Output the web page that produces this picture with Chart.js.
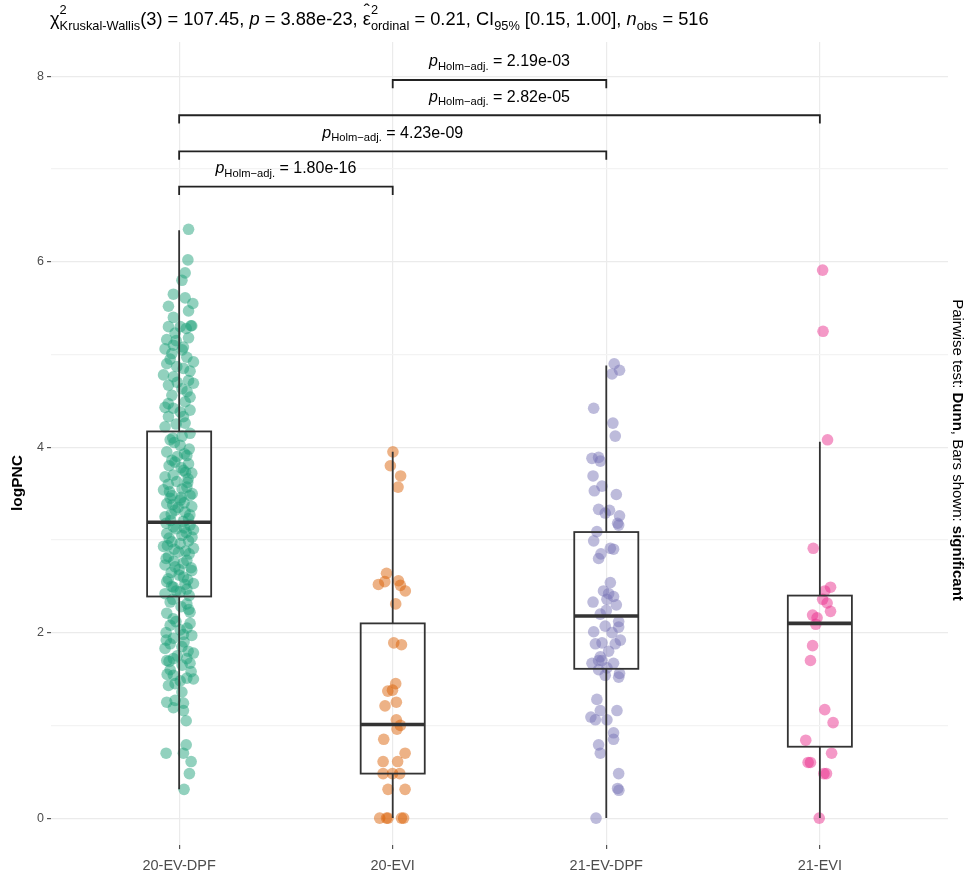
<!DOCTYPE html>
<html>
<head>
<meta charset="utf-8">
<script src="https://cdn.jsdelivr.net/npm/chart.js@4.4.1/dist/chart.umd.min.js"></script>
<style>
  html, body { margin: 0; padding: 0; background: #fff; }
  #wrap { width: 968px; height: 879px; }
</style>
</head>
<body>
<div id="wrap"><canvas id="chart" width="968" height="879"></canvas></div>
<script>
const categories = ['20-EV-DPF', '20-EVI', '21-EV-DPF', '21-EVI'];
const colors = ['27,158,119', '217,95,2', '117,112,179', '231,41,138'];

// logPNC values, with the horizontal jitter of each point (in category widths)
const dpf20Values = [
  6.35,6.02,5.88,5.80,5.65,5.61,5.52,5.55,5.47,5.40,5.31,5.31,5.30,5.30,5.23,5.18,5.16,5.10,5.08,5.06,
  5.01,4.97,4.92,4.90,4.87,4.85,4.78,4.76,4.72,4.69,4.67,4.63,4.56,4.54,4.49,4.43,4.42,4.40,4.33,4.33,
  4.25,4.38,4.47,4.60,4.70,4.82,4.95,5.05,5.15,5.28,
  4.22,4.26,4.15,4.08,4.02,3.95,3.91,3.82,3.86,3.68,3.75,3.72,3.63,3.54,3.57,3.48,3.48,3.43,3.39,3.36,
  3.32,3.30,3.25,3.23,3.14,3.11,3.07,3.05,2.99,2.98,2.93,2.91,2.87,2.82,2.78,2.73,2.71,2.67,2.55,2.60,
  2.53,2.49,2.47,2.42,2.44,
  4.12,4.05,3.98,3.90,3.80,3.78,3.70,3.66,3.60,3.55,3.50,3.45,3.40,3.35,3.28,3.20,3.18,3.16,3.12,3.08,
  3.02,2.96,2.90,2.85,2.80,2.75,2.70,2.65,2.62,2.58,2.52,2.45,2.40,
  4.10,3.93,3.84,3.73,3.62,3.52,3.46,3.38,3.27,3.21,3.13,3.03,2.94,2.88,2.77,2.68,2.57,2.50,
  2.33,2.31,2.21,2.22,2.08,2.10,2.03,1.97,1.94,1.83,1.85,1.78,1.70,1.72,1.72,1.67,1.60,1.54,1.51,1.50,
  1.43,1.45,1.36,1.25,1.27,1.24,1.19,1.16,1.05,0.70,0.79,0.70,0.61,0.48,0.31,
  2.28,2.15,2.05,2.00,1.90,1.88,1.80,1.75,1.69,1.65,1.58,1.55,1.48,2.36,2.25,2.12,1.98,1.92
];
const dpf20Jitter = [
  .044,.041,.028,.013,-.027,.028,-.050,.064,.044,-.027,.055,.059,-.050,.005,-.019,.044,-.058,-.027,.020,-.066,
  -.034,.036,.067,-.058,-.011,.020,-.073,-.027,.044,.067,-.050,.013,-.034,.051,.028,-.066,-.027,.051,-.050,.020,
  -.014,.005,-.051,.037,-.009,.051,-.042,.014,-.014,.033,
  -.066,.028,.051,-.042,.005,-.058,.036,.044,-.034,-.066,.020,.059,-.011,-.073,.036,-.034,.051,.005,-.058,.059,
  -.019,.028,-.066,.044,-.027,.067,-.058,.013,.044,-.034,-.073,.067,-.003,-.050,.036,-.066,-.019,.059,-.058,.020,
  .067,-.027,.036,-.066,.005,
  .014,-.023,.047,-.009,-.047,.009,-.028,.042,-.051,.014,.061,-.042,.023,-.005,-.037,.019,-.061,.051,-.014,.033,
  -.047,.005,-.023,.047,-.061,.019,.056,-.037,0,-.051,.028,-.014,.047,
  -.030,.025,-.020,.030,.040,-.045,.010,-.030,.050,-.040,.025,.060,-.055,.030,-.025,.000,.040,-.035,
  -.042,.036,-.058,.051,-.042,.051,.005,.059,-.027,-.066,.013,.067,-.058,-.027,.036,.051,-.042,-.027,.036,.067,
  -.050,-.019,.013,-.058,-.019,.020,-.027,.020,.033,-.061,.033,.020,.056,.048,.023,
  .009,-.028,.037,-.061,.023,-.042,.042,-.009,-.047,.014,.056,-.056,.005,-.030,.045,-.015,.020,-.060
];
const evi20Values = [
  3.95,3.80,3.69,3.57,2.64,2.52,2.55,2.56,2.51,2.45,2.31,1.89,1.87,1.45,1.37,1.38,1.25,1.21,1.06,1.00,
  0.96,0.85,0.70,0.61,0.61,0.48,0.48,0.48,0.31,0.31,0,0,0,0,0
];
const evi20Jitter = [
  .001,-.011,.037,.025,-.029,-.067,-.037,.027,.036,.059,.014,.005,.041,.014,-.023,-.001,.017,-.036,.017,.036,
  .020,-.042,.058,-.045,.023,-.045,-.001,.033,-.022,.058,-.061,-.029,-.022,.041,.051
];
const dpf21Values = [
  4.90,4.83,4.79,4.42,4.26,4.12,3.88,3.89,3.85,3.69,3.58,3.53,3.49,3.33,3.32,3.29,3.26,3.18,3.16,3.09,
  2.99,2.91,2.90,2.85,2.80,2.54,2.45,2.42,2.33,2.39,2.30,2.24,2.12,2.06,2.01,2.07,1.92,1.88,1.89,1.88,
  1.74,1.67,1.70,1.67,1.60,1.54,1.56,1.52,1.28,1.16,1.16,1.09,1.06,1.06,0.92,0.85,0.79,0.70,0.48,0.32,
  0.30,0,2.36,2.20,2.00,1.80,1.70,1.62
];
const dpf21Jitter = [
  .037,.062,.027,-.059,.031,.042,-.067,-.036,-.028,-.062,-.020,-.056,.047,-.036,.015,-.005,.062,.053,.058,-.044,
  -.059,.019,.034,-.025,-.036,.019,-.013,.011,-.062,.034,.047,0,.058,.058,-.059,-.005,.066,-.051,-.020,.042,
  -.028,-.067,-.020,.034,-.036,-.005,.062,.058,-.044,-.028,.050,-.072,-.051,.003,.034,.034,-.036,-.028,.058,.053,
  .059,-.048,.003,-.028,.027,.011,-.036,.003
];
const evi21Values = [
  5.91,5.25,4.08,2.91,2.49,2.45,2.36,2.32,2.23,2.19,2.16,2.09,1.86,1.70,1.17,1.03,0.84,0.70,0.60,0.60,
  0.48,0.48,0
];
const evi21Jitter = [
  .013,.015,.036,-.031,.050,.023,.013,.034,.050,-.034,-.013,-.019,-.034,-.044,.023,.062,-.066,.055,-.055,-.044,
  .019,.031,-.003
];

// box statistics per category
const whiskerLow = [0.31, 0, 0, 0];
const boxQ1 = [2.39, 0.48, 1.61, 0.77];
const boxMedian = [3.19, 1.01, 2.18, 2.10];
const boxQ3 = [4.17, 2.10, 3.085, 2.40];
const whiskerHigh = [6.34, 3.95, 4.88, 4.06];

// pairwise comparisons (Dunn, Holm adjusted)
const pairs = [[1, 2], [0, 3], [0, 2], [0, 1]];
const bracketY = [7.96, 7.58, 7.19, 6.81];
const pLabels = ['2.19e-03', '2.82e-05', '4.23e-09', '1.80e-16'];

const yTicks = [0, 1, 2, 3, 4, 5, 6, 7, 8];

const FONT = '"Liberation Sans", Arial, sans-serif';
const boxHalf = 0.15;

const groups = [
  [dpf20Values, dpf20Jitter],
  [evi20Values, evi20Jitter],
  [dpf21Values, dpf21Jitter],
  [evi21Values, evi21Jitter]
];

// draws text made of pieces (italic/bold, hat accent, stacked sub/superscripts); returns its width
function richText(ctx, parts, x, y, size, draw) {
  let cx = x;
  parts.forEach(p => {
    ctx.font = (p.italic ? 'italic ' : '') + (p.bold ? 'bold ' : '') + size + 'px ' + FONT;
    const tw = ctx.measureText(p.text).width;
    if (draw) {
      ctx.fillText(p.text, cx, y);
      if (p.hat) {
        ctx.save();
        ctx.textAlign = 'center';
        ctx.fillText('\u02C6', cx + tw / 2, y - size * 0.42);
        ctx.restore();
      }
    }
    cx += tw;
    if (p.sub || p.sup) {
      const s = size * 0.7;
      ctx.font = s + 'px ' + FONT;
      let w = 0;
      if (p.sub) {
        if (draw) ctx.fillText(p.sub, cx, y + size * 0.3);
        w = ctx.measureText(p.sub).width;
      }
      if (p.sup) {
        if (draw) ctx.fillText(p.sup, cx, y - size * 0.6);
        w = Math.max(w, ctx.measureText(p.sup).width);
      }
      cx += w;
    }
  });
  return cx - x;
}

const boxPlugin = {
  id: 'boxes',
  afterDatasetsDraw(chart) {
    const { ctx, scales: { x, y } } = chart;
    ctx.save();
    ctx.strokeStyle = '#333333';
    categories.forEach((c, i) => {
      const cx = x.getPixelForValue(i);
      const l = x.getPixelForValue(i - boxHalf);
      const r = x.getPixelForValue(i + boxHalf);
      const top = y.getPixelForValue(boxQ3[i]);
      const bot = y.getPixelForValue(boxQ1[i]);
      ctx.lineWidth = 1.8;
      ctx.beginPath();
      ctx.moveTo(cx, y.getPixelForValue(whiskerHigh[i]));
      ctx.lineTo(cx, top);
      ctx.moveTo(cx, bot);
      ctx.lineTo(cx, y.getPixelForValue(whiskerLow[i]));
      ctx.stroke();
      ctx.strokeRect(l, top, r - l, bot - top);
      ctx.lineWidth = 3.6;
      const m = y.getPixelForValue(boxMedian[i]);
      ctx.beginPath();
      ctx.moveTo(l, m);
      ctx.lineTo(r, m);
      ctx.stroke();
    });
    ctx.restore();
  }
};

const annotPlugin = {
  id: 'annot',
  afterDraw(chart) {
    const { ctx, scales: { x, y } } = chart;
    ctx.save();
    // significance brackets
    ctx.strokeStyle = '#222222';
    ctx.fillStyle = '#000000';
    ctx.lineWidth = 1.8;
    ctx.textBaseline = 'middle';
    pairs.forEach((pr, k) => {
      const x1 = x.getPixelForValue(pr[0]);
      const x2 = x.getPixelForValue(pr[1]);
      const yy = y.getPixelForValue(bracketY[k]);
      const yt = y.getPixelForValue(bracketY[k] - 0.09);
      ctx.beginPath();
      ctx.moveTo(x1, yt);
      ctx.lineTo(x1, yy);
      ctx.lineTo(x2, yy);
      ctx.lineTo(x2, yt);
      ctx.stroke();
      const parts = [
        { text: 'p', italic: true, sub: 'Holm\u2212adj.' },
        { text: ' = ' + pLabels[k] }
      ];
      const w = richText(ctx, parts, 0, 0, 16, false);
      richText(ctx, parts, (x1 + x2) / 2 - w / 2, yy - 18, 16, true);
    });

    // subtitle with the test result
    ctx.textBaseline = 'alphabetic';
    const title = [
      { text: '\u03C7', sub: 'Kruskal-Wallis', sup: '2' },
      { text: '(3) = 107.45, ' },
      { text: 'p', italic: true },
      { text: ' = 3.88e-23, ' },
      { text: '\u03B5', hat: true, sub: 'ordinal', sup: '2' },
      { text: ' = 0.21, CI', sub: '95%' },
      { text: ' [0.15, 1.00], ' },
      { text: 'n', italic: true, sub: 'obs' },
      { text: ' = 516' }
    ];
    richText(ctx, title, 50, 25, 18.3, true);

    // y axis title
    ctx.save();
    ctx.translate(18, 483);
    ctx.rotate(-Math.PI / 2);
    ctx.textAlign = 'center';
    ctx.textBaseline = 'middle';
    ctx.font = 'bold 15.5px ' + FONT;
    ctx.fillText('logPNC', 0, 0);
    ctx.restore();

    // caption on the right side
    const cap = [
      { text: 'Pairwise test: ' },
      { text: 'Dunn', bold: true },
      { text: ', Bars shown: ' },
      { text: 'significant', bold: true }
    ];
    const cw = richText(ctx, cap, 0, 0, 15, false);
    ctx.translate(957, 450);
    ctx.rotate(Math.PI / 2);
    ctx.textBaseline = 'middle';
    richText(ctx, cap, -cw / 2, 0, 15, true);
    ctx.restore();
  }
};

const datasets = groups.map((g, i) => ({
  data: g[0].map((v, j) => ({ x: i + g[1][j], y: v })),
  backgroundColor: 'rgba(' + colors[i] + ',0.48)',
  borderWidth: 0,
  pointRadius: 5.8,
  pointHoverRadius: 5.8
}));

new Chart(document.getElementById('chart'), {
  type: 'scatter',
  data: { datasets },
  options: {
    responsive: false,
    devicePixelRatio: 1,
    animation: false,
    layout: { padding: { top: 42, right: 20, left: 0, bottom: 0 } },
    plugins: { legend: { display: false }, tooltip: { enabled: false } },
    scales: {
      x: {
        type: 'linear',
        min: -0.6,
        max: 3.6,
        afterBuildTicks: s => { s.ticks = categories.map((c, i) => ({ value: i })); },
        afterFit: s => { s.height = 34; },
        border: { display: false },
        grid: { color: '#EBEBEB', lineWidth: 1.2, tickColor: '#555555', tickLength: 4 },
        ticks: {
          autoSkip: false,
          maxRotation: 0,
          padding: 8,
          color: '#4D4D4D',
          font: { family: FONT, size: 14.5 },
          callback: v => categories[v]
        }
      },
      y: {
        type: 'linear',
        min: -0.29,
        max: 8.37,
        afterBuildTicks: s => { s.ticks = yTicks.map(v => ({ value: v })); },
        afterFit: s => { s.width = 51; },
        border: { display: false },
        grid: {
          color: c => (c.tick && c.tick.value % 2 === 0) ? '#EBEBEB' : '#F3F3F3',
          lineWidth: 1.2,
          tickColor: c => (c.tick && c.tick.value % 2 === 0) ? '#555555' : 'rgba(0,0,0,0)',
          tickLength: 4
        },
        ticks: {
          autoSkip: false,
          padding: 3,
          color: '#4D4D4D',
          font: { family: FONT, size: 12.5 },
          callback: v => (v % 2 === 0 ? v : '')
        }
      }
    }
  },
  plugins: [boxPlugin, annotPlugin]
});
</script>
</body>
</html>
